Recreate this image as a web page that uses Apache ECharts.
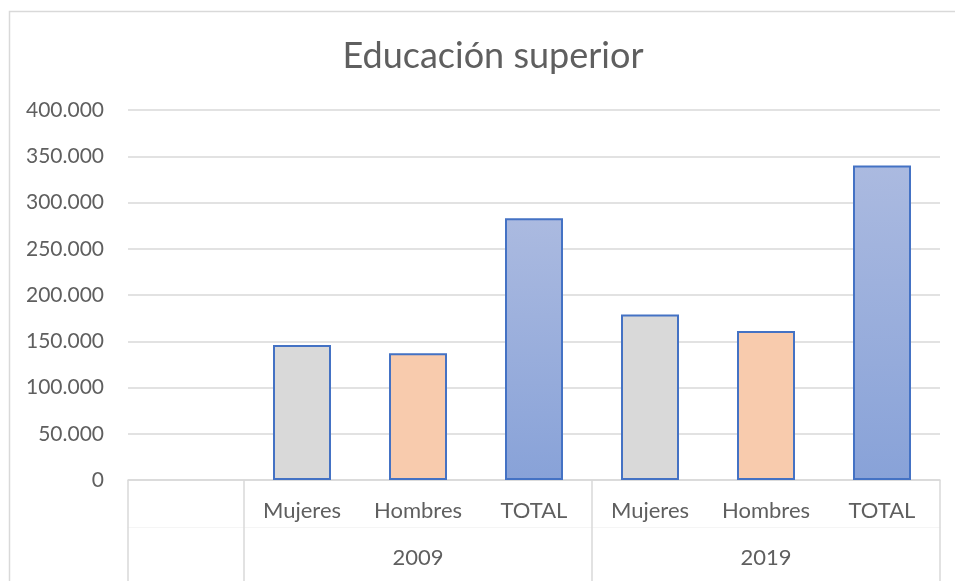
<!DOCTYPE html>
<html>
<head>
<meta charset="utf-8">
<script src="https://cdn.jsdelivr.net/npm/echarts@6/dist/echarts.min.js"></script>
<style>
  html, body { margin: 0; padding: 0; background: #fff; }
  #chart { width: 955px; height: 581px; }
</style>
</head>
<body>
<div id="chart"></div>
<script>
// categorías del eje (nivel interior y nivel de grupo)
const categories = ["", "Mujeres", "Hombres", "TOTAL", "Mujeres", "Hombres", "TOTAL"];
const groupLabels = ["", "", "2009", "", "", "2019", ""];
// valores
const values = [null, 146000, 137000, 283000, 179000, 161000, 340000];
const yTicks = { min: 0, max: 400000, interval: 50000 };

const fontFamily = "Lato, 'Open Sans', sans-serif";
const textColor = "#5f5f5f";
const lineColor = "#d9d9d9";

function fmt(v) {
  return String(v).replace(/\B(?=(\d{3})+(?!\d))/g, ".");
}

function barColor(name) {
  if (name === "Mujeres") return "#d9d9d9";
  if (name === "Hombres") return "#f8cbad";
  return new echarts.graphic.LinearGradient(0, 0, 0, 1, [
    { offset: 0, color: "#abbae0" },
    { offset: 1, color: "#88a2d8" }
  ]);
}

const chart = echarts.init(document.getElementById("chart"), null, { renderer: "canvas" });

chart.setOption({
  animation: false,
  backgroundColor: "#fff",
  title: {
    text: "Educación superior",
    left: 488,
    textAlign: "center",
    top: 33,
    textStyle: {
      fontFamily: fontFamily,
      fontSize: 36,
      fontWeight: "normal",
      color: textColor
    }
  },
  graphic: [
    {
      type: "rect",
      shape: { x: 9.5, y: 11.5, width: 1200, height: 1200 },
      style: { fill: "none", stroke: lineColor, lineWidth: 1.5 },
      silent: true
    }
  ],
  grid: { left: 128, right: 15, top: 110, bottom: 101 },
  xAxis: [
    {
      type: "category",
      data: categories,
      position: "bottom",
      axisLine: { show: true, lineStyle: { color: lineColor, width: 1.5 } },
      axisTick: {
        show: true,
        length: 101,
        interval: function (i) { return i === 0 || i === 1 || i === 4; },
        lineStyle: { color: lineColor, width: 1.5 }
      },
      axisLabel: {
        interval: 0,
        margin: 20,
        color: textColor,
        fontFamily: fontFamily,
        fontSize: 22
      }
    },
    {
      type: "category",
      data: groupLabels,
      position: "bottom",
      offset: 47,
      axisLine: { show: true, lineStyle: { color: "#f5f5f5", width: 1 } },
      axisTick: { show: false },
      axisLabel: {
        interval: 0,
        margin: 20,
        color: textColor,
        fontFamily: fontFamily,
        fontSize: 22
      }
    }
  ],
  yAxis: {
    type: "value",
    min: yTicks.min,
    max: yTicks.max,
    interval: yTicks.interval,
    axisLine: { show: false },
    axisTick: { show: false },
    axisLabel: {
      margin: 24,
      color: textColor,
      fontFamily: fontFamily,
      fontSize: 21,
      formatter: fmt
    },
    splitLine: { lineStyle: { color: lineColor, width: 1.5 } }
  },
  series: [
    {
      type: "bar",
      xAxisIndex: 0,
      barWidth: "50%",
      data: values.map(function (v, i) {
        return {
          value: v,
          itemStyle: {
            color: barColor(categories[i]),
            borderColor: "#4472c4",
            borderWidth: 2
          }
        };
      })
    }
  ]
});
</script>
</body>
</html>
